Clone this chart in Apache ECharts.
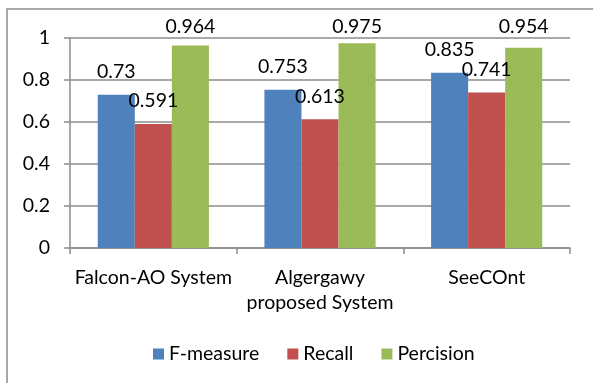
<!DOCTYPE html>
<html>
<head>
<meta charset="utf-8">
<script src="https://cdn.jsdelivr.net/npm/echarts@6/dist/echarts.min.js"></script>
<style>
  html, body { margin: 0; padding: 0; background: #fff; }
  #chart { width: 593px; height: 383px; }
</style>
</head>
<body>
<div id="chart"></div>
<script>
// Systems compared
const categories = ['Falcon-AO System', 'Algergawy\nproposed System', 'SeeCOnt'];

// Scores per system
const fMeasure = [0.73, 0.753, 0.835];
const recall = [0.591, 0.613, 0.741];
const percision = [0.964, 0.975, 0.954];

// Value axis labels
const yTickLabels = ['0', '0.2', '0.4', '0.6', '0.8', '1'];

const seriesNames = ['F-measure', 'Recall', 'Percision'];
const seriesColors = ['#4F81BD', '#C0504D', '#9BBB59'];
const seriesValues = [fMeasure, recall, percision];

const FONT = 'Lato';
const FS = 19.5;
const GRAY = '#8c8c8c';

const chart = echarts.init(document.getElementById('chart'), null, { renderer: 'canvas' });

chart.setOption({
  animation: false,
  backgroundColor: '#ffffff',
  textStyle: { fontFamily: FONT, color: '#000' },
  graphic: [{
    type: 'rect',
    shape: { x: 7, y: 9, width: 700, height: 500 },
    style: { fill: null, stroke: GRAY, lineWidth: 1.5 },
    silent: true,
    z: -1
  }],
  grid: { left: 70, right: 23, top: 38, bottom: 135, containLabel: false },
  legend: {
    left: 148,
    top: 339,
    itemWidth: 11,
    itemHeight: 11,
    itemGap: 28,
    icon: 'rect',
    textStyle: { fontFamily: FONT, fontSize: FS, color: '#000' },
    data: seriesNames
  },
  xAxis: {
    type: 'category',
    data: categories,
    axisLine: { lineStyle: { color: GRAY, width: 1.5 } },
    axisTick: { show: true, length: 6, lineStyle: { color: GRAY, width: 1.5 } },
    axisLabel: {
      fontFamily: FONT, fontSize: FS, color: '#000', margin: 17,
      lineHeight: 25, interval: 0
    }
  },
  yAxis: {
    type: 'value',
    min: 0,
    max: 1,
    interval: 0.2,
    axisLine: { show: true, lineStyle: { color: GRAY, width: 1.5 } },
    axisTick: { show: true, length: 6, lineStyle: { color: GRAY, width: 1.5 } },
    splitLine: { lineStyle: { color: GRAY, width: 1.5 } },
    axisLabel: {
      fontFamily: FONT, fontSize: FS, color: '#000', margin: 20,
      formatter: (v, i) => yTickLabels[i]
    }
  },
  series: seriesNames.map((name, k) => ({
    name,
    type: 'bar',
    data: seriesValues[k],
    barGap: '0%',
    barCategoryGap: '33.3%',
    itemStyle: { color: seriesColors[k] },
    label: {
      show: true,
      position: 'top',
      distance: 13,
      fontFamily: FONT,
      fontSize: FS,
      color: '#000'
    }
  })),
  // keep value labels inside the chart's top edge
  labelLayout: function (params) {
    const r = params.labelRect;
    if (r.y < 17) return { dy: 17 - r.y };
    return {};
  }
});
</script>
</body>
</html>
